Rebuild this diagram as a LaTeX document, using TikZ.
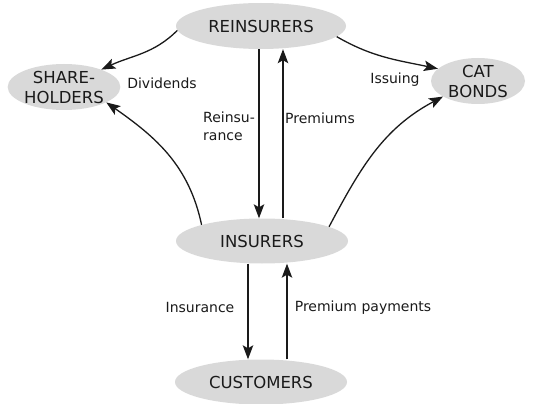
\documentclass[tikz,border=0pt]{standalone}
\usepackage{fontspec}
\setmainfont{DejaVu Sans}
\usetikzlibrary{arrows.meta,shapes.geometric}
\definecolor{ellgray}{HTML}{D9D9D9}
\definecolor{ink}{HTML}{1A1A1A}
\tikzset{
  ent/.style={ellipse, fill=ellgray, inner sep=0pt, text=ink,
    font=\fontsize{16.5}{20}\selectfont, align=center},
  lab/.style={text=ink, font=\fontsize{14}{18}\selectfont, inner sep=0pt},
  arr/.style={-{Stealth[length=14pt,width=10.5pt,inset=3pt]}, line width=1.3pt, draw=ink},
}
\begin{document}
\begin{tikzpicture}[x=1pt,y=-1pt]
\useasboundingbox (0,0) rectangle (539,404);
\node[ent, minimum width=170pt, minimum height=46pt] (rein) at (261,26) {REINSURERS};
\node[ent, minimum width=110pt, minimum height=46pt] (shs) at (64,87) {SHARE-\\HOLDERS};
\node[ent, minimum width=94pt, minimum height=46pt] (cat) at (478,81) {CAT\\BONDS};
\node[ent, minimum width=172pt, minimum height=45pt] (ins) at (262,241) {INSURERS};
\node[ent, minimum width=172pt, minimum height=45pt] (cust) at (261,382) {CUSTOMERS};

\draw[arr] (rein.183) to[out=225,in=25] (shs.25);
\draw[arr] (rein.-8) to[out=-30,in=168] (cat.163);
\draw[arr] ([xshift=-2pt]rein.south) -- ([xshift=-3pt]ins.north);
\draw[arr] ([xshift=21pt]ins.north) -- ([xshift=22pt]rein.south);
\draw[arr] (ins.165) to[out=102,in=-35] (shs.-20);
\draw[arr] (ins.12) to[out=62,in=208] (cat.204);
\draw[arr] ([xshift=-14pt]ins.south) -- ([xshift=-13pt]cust.north);
\draw[arr] ([xshift=26pt]cust.north) -- ([xshift=25pt]ins.south);

\node[lab] (ldiv) at (162,83) {Dividends};
\node[lab, anchor=west, align=left, font=\fontsize{14}{18}\selectfont] (lrein) at (203,126) {Reinsu-\\rance};
\node[lab] (lprem) at (320,118) {Premiums};
\node[lab] (liss) at (395,80) {Issuing};
\node[lab] (lins) at (200,307) {Insurance};
\node[lab] (lpp) at (363,308) {Premium payments};
\end{tikzpicture}
\end{document}
